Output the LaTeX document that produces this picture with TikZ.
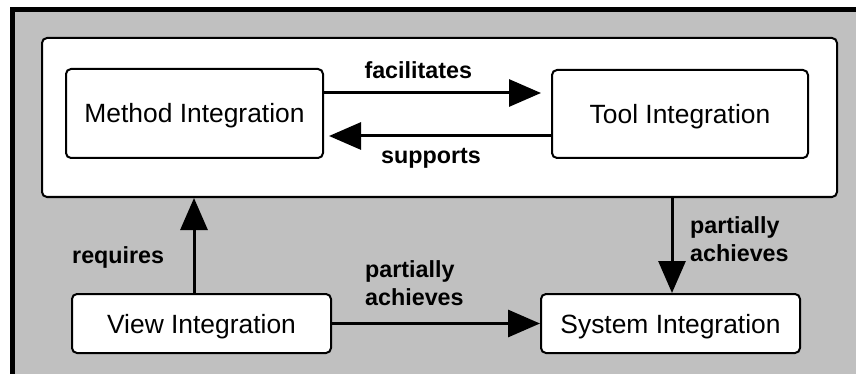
\documentclass[tikz,border=0pt]{standalone}
\usepackage{fontspec}
\setmainfont{Liberation Sans}
\usetikzlibrary{arrows.meta}
\definecolor{panelgray}{HTML}{C0C0C0}
\tikzset{
  box/.style={draw, line width=2pt, rounded corners=5pt, fill=white, inner sep=0pt,
    text height=19pt, text depth=0pt, font=\fontsize{26.4}{30}\selectfont},
  link/.style={line width=3pt, -{Triangle[length=32pt,width=27pt]}},
  lbl/.style={font=\fontsize{23.3}{28}\selectfont\bfseries, inner sep=0pt, align=left}
}

\begin{document}
\begin{tikzpicture}[x=1pt,y=-1pt]
    \useasboundingbox (0,0) rectangle (856,374);
    \fill[panelgray] (12.5,10) rectangle (856,374);
    \draw[line width=5pt] (12.5,374) -- (12.5,10) -- (856,10);
    \node[box, minimum width=795pt, minimum height=159pt] (group) at (439.5,117.5) {};
    \node[box, minimum width=257pt, minimum height=89pt] (method) at (194.5,113.5) {Method Integration};
    \node[box, minimum width=256pt, minimum height=88pt] (tool) at (680,114) {Tool Integration};
    \node[box, minimum width=259pt, minimum height=59pt] (view) at (201.5,323.5) {View Integration};
    \node[box, minimum width=259pt, minimum height=59pt] (system) at (670.5,323.5) {System Integration};
    \draw[link, shorten >=10pt] ([yshift=20.5pt]method.east) -- ([yshift=20.5pt]method.east -| tool.west);
    \draw[link, shorten >=5pt] ([yshift=-22.5pt]method.east -| tool.west) -- ([yshift=-22.5pt]method.east);
    \draw[link] ([xshift=-7.5pt]view.north) -- ([xshift=-7.5pt]view.north |- group.south);
    \draw[link] ([xshift=1.5pt]system.north |- group.south) -- ([xshift=1.5pt]system.north);
    \draw[link] (view.east) -- (system.west);
    \node[lbl, anchor=base west] (facil) at (364.3,79) {facilitates};
    \node[lbl, anchor=base west] (supp) at (381,164) {supports};
    \node[lbl, anchor=base west] (req) at (72,263) {requires};
    \node[lbl, anchor=base west] (achleft) at (365,305) {partially\\achieves};
    \node[lbl, anchor=base west] (achright) at (690,261) {partially\\achieves};
\end{tikzpicture}
\end{document}
